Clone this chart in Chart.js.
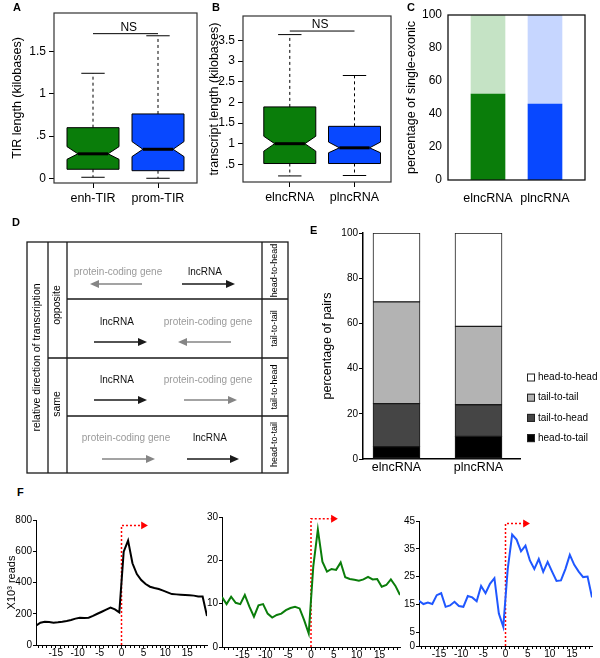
<!DOCTYPE html>
<html>
<head>
<meta charset="utf-8">
<title>lncRNA figure</title>
<script src="https://cdn.jsdelivr.net/npm/chart.js@4.4.1/dist/chart.umd.min.js"></script>
<style>
  body { margin: 0; background: #fff; }
  #fig { position: relative; width: 600px; height: 658px; overflow: hidden; background: #fff;
         font-family: "Liberation Sans", Arial, sans-serif; }
  #fig canvas { position: absolute; }
  .panel { position: absolute; font-weight: bold; font-size: 11px; line-height: 11px; color: #000; }
</style>
</head>
<body>
<div id="fig">
  <canvas id="chartA" width="200" height="210" style="left:0;top:0"></canvas>
  <canvas id="chartB" width="210" height="210" style="left:190px;top:0"></canvas>
  <canvas id="chartC" width="200" height="210" style="left:400px;top:0"></canvas>
  <canvas id="diagramD" width="300" height="270" style="left:0;top:210px"></canvas>
  <canvas id="chartE" width="300" height="255" style="left:300px;top:225px"></canvas>
  <canvas id="chartF1" width="212" height="158" style="left:0;top:500px"></canvas>
  <canvas id="chartF2" width="210" height="158" style="left:195px;top:500px"></canvas>
  <canvas id="chartF3" width="205" height="158" style="left:395px;top:500px"></canvas>
  <div class="panel" style="left:13px;top:2px">A</div>
  <div class="panel" style="left:212px;top:2px">B</div>
  <div class="panel" style="left:407px;top:2px">C</div>
  <div class="panel" style="left:12px;top:217px">D</div>
  <div class="panel" style="left:310px;top:225px">E</div>
  <div class="panel" style="left:17px;top:487px">F</div>
</div>
<script>
const FONT = '"Liberation Sans", Arial, sans-serif';

// Panel A - TIR length (kilobases)
const tirLabels = ['enh-TIR', 'prom-TIR'];
const tirWhiskerLow = [0.012, 0.0];
const tirQ1 = [0.107, 0.09];
const tirNotchLow = [0.225, 0.257];
const tirMedian = [0.29, 0.344];
const tirNotchHigh = [0.375, 0.435];
const tirQ3 = [0.60, 0.763];
const tirWhiskerHigh = [1.245, 1.69];
const tirTicks = [0, 0.5, 1, 1.5];
const tirTickLabels = ['0', '.5', '1', '1.5'];

// Panel B - transcript length (kilobases)
const lenLabels = ['elncRNA', 'plncRNA'];
const lenWhiskerLow = [0.22, 0.23];
const lenQ1 = [0.52, 0.52];
const lenNotchLow = [0.82, 0.78];
const lenMedian = [1.0, 0.9];
const lenNotchHigh = [1.18, 1.04];
const lenQ3 = [1.89, 1.42];
const lenWhiskerHigh = [3.64, 2.65];
const lenTicks = [0.5, 1, 1.5, 2, 2.5, 3, 3.5];
const lenTickLabels = ['.5', '1', '1.5', '2', '2.5', '3', '3.5'];

// Panel C - percentage of single-exonic
const exonLabels = ['elncRNA', 'plncRNA'];
const singleExonic = [52, 46];
const multiExonic = [48, 54];

// Panel E - percentage of pairs
const pairLabels = ['elncRNA', 'plncRNA'];
const headToTail = [5.5, 10];
const tailToHead = [19, 14];
const tailToTail = [45, 34.7];
const headToHead = [30.5, 41.3];

// Panel F - reads around the TSS
const tssPositions = [-19.5, -18.5, -17.5, -16.5, -15.5, -14.5, -13.5, -12.5, -11.5, -10.5,
  -9.5, -8.5, -7.5, -6.5, -5.5, -4.5, -3.5, -2.5, -1.5, -0.5,
  0.5, 1.5, 2.5, 3.5, 4.5, 5.5, 6.5, 7.5, 8.5, 9.5,
  10.5, 11.5, 12.5, 13.5, 14.5, 15.5, 16.5, 17.5, 18.5, 19.5];
const readsAll = [124, 143, 149, 147, 143, 145, 149, 154, 160, 169,
  175, 173, 175, 186, 200, 213, 226, 239, 228, 209,
  597, 668, 523, 454, 416, 390, 373, 365, 358, 348,
  337, 326, 324, 322, 320, 318, 316, 311, 310, 186];
const readsEnh = [11.5, 9.9, 11.6, 10.2, 9.9, 12.0, 9.3, 7.0, 9.6, 9.9,
  7.7, 6.8, 7.4, 7.7, 8.5, 9.0, 9.3, 8.9, 6.2, 3.1,
  18.6, 27.1, 19.7, 17.4, 18.0, 17.8, 19.5, 16.1, 15.7, 15.5,
  15.3, 15.6, 16.2, 15.6, 15.7, 13.9, 14.3, 15.6, 14.1, 12.0];
const readsProm = [16.3, 15.1, 15.6, 15.1, 18.3, 19.0, 14.1, 14.6, 15.9, 14.4,
  14.1, 18.0, 17.5, 16.1, 21.6, 19.0, 22.4, 24.4, 11.7, 6.9,
  27.7, 40.1, 38.3, 34.1, 36.1, 30.8, 27.7, 31.3, 26.7, 30.3,
  26.8, 23.4, 23.6, 27.7, 32.8, 29.2, 26.8, 24.8, 25.0, 17.5];
// minor ticks every kb, labels every 5
const tssTickValues = [-19, -18, -17, -16, -15, -14, -13, -12, -11, -10, -9, -8, -7, -6, -5, -4, -3, -2, -1,
  0, 1, 2, 3, 4, 5, 6, 7, 8, 9, 10, 11, 12, 13, 14, 15, 16, 17, 18, 19];
const tssArrowTop = [765, 29.6, 44.1];
const tssArrowEnd = [5.0, 4.9, 4.5];

const GREEN = '#0a7d0a';
const BLUE = '#0848ff';

Chart.defaults.font.family = FONT;
Chart.defaults.color = '#000';
Chart.defaults.animation = false;
Chart.defaults.responsive = false;
Chart.defaults.plugins.legend.display = false;
Chart.defaults.plugins.tooltip.enabled = false;

// Box around the plotting area
function framePlugin(color, width) {
  return {
    id: 'frame',
    afterDraw(chart) {
      const { ctx, chartArea: a } = chart;
      ctx.save();
      ctx.strokeStyle = color;
      ctx.lineWidth = width;
      ctx.strokeRect(a.left, a.top, a.right - a.left, a.bottom - a.top);
      ctx.restore();
    }
  };
}

// Notched boxplots drawn through the chart's scales
function notchedBoxPlugin(s) {
  return {
    id: 'notchedBox',
    afterDatasetsDraw(chart) {
      const { ctx, scales: { x, y } } = chart;
      const py = v => y.getPixelForValue(v);
      const hw = s.halfWidth;
      const inset = hw * 0.42;
      const cap = hw * 0.45;
      ctx.save();
      ctx.strokeStyle = '#000';
      s.median.forEach((med, i) => {
        const cx = x.getPixelForValue(i);
        ctx.lineWidth = 1;
        ctx.setLineDash([3, 3]);
        ctx.beginPath();
        ctx.moveTo(cx, py(s.q3[i])); ctx.lineTo(cx, py(s.whiskerHigh[i]));
        ctx.moveTo(cx, py(s.q1[i])); ctx.lineTo(cx, py(s.whiskerLow[i]));
        ctx.stroke();
        ctx.setLineDash([]);
        ctx.beginPath();
        ctx.moveTo(cx - cap, py(s.whiskerHigh[i])); ctx.lineTo(cx + cap, py(s.whiskerHigh[i]));
        ctx.moveTo(cx - cap, py(s.whiskerLow[i])); ctx.lineTo(cx + cap, py(s.whiskerLow[i]));
        ctx.stroke();

        ctx.beginPath();
        ctx.moveTo(cx - hw, py(s.q1[i]));
        ctx.lineTo(cx - hw, py(s.notchLow[i]));
        ctx.lineTo(cx - hw + inset, py(med));
        ctx.lineTo(cx - hw, py(s.notchHigh[i]));
        ctx.lineTo(cx - hw, py(s.q3[i]));
        ctx.lineTo(cx + hw, py(s.q3[i]));
        ctx.lineTo(cx + hw, py(s.notchHigh[i]));
        ctx.lineTo(cx + hw - inset, py(med));
        ctx.lineTo(cx + hw, py(s.notchLow[i]));
        ctx.lineTo(cx + hw, py(s.q1[i]));
        ctx.closePath();
        ctx.fillStyle = s.colors[i];
        ctx.fill();
        ctx.stroke();

        ctx.lineWidth = 3;
        ctx.beginPath();
        ctx.moveTo(cx - hw + inset, py(med));
        ctx.lineTo(cx + hw - inset, py(med));
        ctx.stroke();
      });
      // NS bracket
      ctx.lineWidth = 1;
      ctx.beginPath();
      ctx.moveTo(x.getPixelForValue(0), py(s.nsLevel));
      ctx.lineTo(x.getPixelForValue(1), py(s.nsLevel));
      ctx.stroke();
      ctx.fillStyle = '#000';
      ctx.font = '12px ' + FONT;
      ctx.textAlign = 'center';
      ctx.fillText('NS', x.getPixelForValue(s.nsTextX), py(s.nsLevel) - 3);
      ctx.restore();
    }
  };
}

function boxChart(id, labels, ticks, tickLabels, yMin, yMax, xMin, xMax, title, pad, yWidth, xHeight, titlePad, stats) {
  return new Chart(document.getElementById(id), {
    type: 'scatter',
    data: { datasets: [] },
    options: {
      layout: { padding: { top: pad.top, right: pad.right } },
      scales: {
        x: {
          type: 'linear', min: xMin, max: xMax, offset: false,
          afterBuildTicks: sc => { sc.ticks = labels.map((_, i) => ({ value: i })); },
          afterFit: sc => { sc.height = xHeight; },
          ticks: { callback: v => labels[v], font: { size: 12.5 }, padding: 3, maxRotation: 0 },
          grid: { drawOnChartArea: false, tickLength: 5, color: '#000' },
          border: { display: false }
        },
        y: {
          min: yMin, max: yMax,
          afterBuildTicks: sc => { sc.ticks = ticks.map(v => ({ value: v })); },
          afterFit: sc => { sc.width = yWidth; },
          ticks: { callback: (v, i) => tickLabels[i], font: { size: 12 }, padding: 3 },
          grid: { drawOnChartArea: false, tickLength: 5, color: '#000' },
          border: { display: false },
          title: { display: true, text: title, font: { size: 12.5 }, padding: { top: titlePad, bottom: 0 } }
        }
      }
    },
    plugins: [framePlugin('#333', 1.2), notchedBoxPlugin(stats)]
  });
}

boxChart('chartA', tirLabels, tirTicks, tirTickLabels, -0.056, 1.96, -0.6, 1.6,
  'TIR length (kilobases)', { top: 13, right: 3 }, 54, 27, 10.5, {
    halfWidth: 26, colors: [GREEN, BLUE],
    whiskerLow: tirWhiskerLow, q1: tirQ1, notchLow: tirNotchLow, median: tirMedian,
    notchHigh: tirNotchHigh, q3: tirQ3, whiskerHigh: tirWhiskerHigh,
    nsLevel: 1.715, nsTextX: 0.55
  });

boxChart('chartB', lenLabels, lenTicks, lenTickLabels, 0.073, 4.09, -0.723, 1.564,
  'transcript length (kilobases)', { top: 16, right: 9 }, 53, 28, 17.5, {
    halfWidth: 26, colors: [GREEN, BLUE],
    whiskerLow: lenWhiskerLow, q1: lenQ1, notchLow: lenNotchLow, median: lenMedian,
    notchHigh: lenNotchHigh, q3: lenQ3, whiskerHigh: lenWhiskerHigh,
    nsLevel: 3.726, nsTextX: 0.47
  });

// Panel C
new Chart(document.getElementById('chartC'), {
  type: 'bar',
  data: {
    datasets: [
      { data: exonLabels.map((_, i) => ({ x: i, y: singleExonic[i] })), backgroundColor: [GREEN, BLUE], barThickness: 34 },
      { data: exonLabels.map((_, i) => ({ x: i, y: multiExonic[i] })), backgroundColor: ['#c5e3c5', '#c6d6ff'], barThickness: 34 }
    ]
  },
  options: {
    layout: { padding: { top: 15, right: 15 } },
    scales: {
      x: {
        type: 'linear', min: -0.702, max: 1.702, stacked: true, offset: false,
        afterBuildTicks: sc => { sc.ticks = exonLabels.map((_, i) => ({ value: i })); },
        afterFit: sc => { sc.height = 30; },
        ticks: { callback: v => exonLabels[v], font: { size: 12.5 }, padding: 11, maxRotation: 0 },
        grid: { display: false, drawTicks: false, offset: false },
        border: { display: false }
      },
      y: {
        min: 0, max: 100, stacked: true,
        ticks: { stepSize: 20, font: { size: 12 }, padding: 6 },
        afterFit: sc => { sc.width = 48; },
        grid: { display: false, drawTicks: false },
        border: { display: false },
        title: { display: true, text: 'percentage of single-exonic', font: { size: 12.5 }, padding: { top: 4.5, bottom: 0 } }
      }
    }
  },
  plugins: [framePlugin('#111', 1.3)]
});

// Panel D - orientation diagram (plain canvas drawing)
function drawArrow(ctx, x1, x2, y, color) {
  const dir = Math.sign(x2 - x1);
  ctx.strokeStyle = color;
  ctx.fillStyle = color;
  ctx.lineWidth = 1.6;
  ctx.beginPath();
  ctx.moveTo(x1, y);
  ctx.lineTo(x2 - dir * 6, y);
  ctx.stroke();
  ctx.beginPath();
  ctx.moveTo(x2, y);
  ctx.lineTo(x2 - dir * 9, y - 4);
  ctx.lineTo(x2 - dir * 9, y + 4);
  ctx.closePath();
  ctx.fill();
}

function verticalText(ctx, text, x, y, size, color) {
  ctx.save();
  ctx.translate(x, y);
  ctx.rotate(-Math.PI / 2);
  ctx.font = size + 'px ' + FONT;
  ctx.fillStyle = color || '#000';
  ctx.textAlign = 'center';
  ctx.textBaseline = 'middle';
  ctx.fillText(text, 0, 0);
  ctx.restore();
}

const orientationRows = ['head-to-head', 'tail-to-tail', 'tail-to-head', 'head-to-tail'];

function drawOrientationDiagram() {
  const ctx = document.getElementById('diagramD').getContext('2d');
  const GRAY_TEXT = '#9a9a9a', GRAY_ARROW = '#858585', DARK = '#1a1a1a';
  ctx.save();
  ctx.translate(0, -210);
  ctx.strokeStyle = DARK;
  ctx.lineWidth = 1.3;
  ctx.strokeRect(27, 242, 261, 231);
  ctx.beginPath();
  [48, 67, 262].forEach(x => { ctx.moveTo(x, 242); ctx.lineTo(x, 473); });
  ctx.moveTo(48, 358); ctx.lineTo(288, 358);
  ctx.moveTo(67, 299); ctx.lineTo(288, 299);
  ctx.moveTo(67, 416); ctx.lineTo(288, 416);
  ctx.stroke();

  verticalText(ctx, 'relative direction of transcription', 37.5, 357.5, 10.5);
  verticalText(ctx, 'opposite', 57.5, 305, 10.5);
  verticalText(ctx, 'same', 57.5, 404, 10.5);
  const rowMid = [270.5, 328.5, 387, 444.5];
  orientationRows.forEach((r, i) => verticalText(ctx, r, 275, rowMid[i], 9));

  const items = [
    ['protein-coding gene', false, 118, 272, 142, 90, 284],
    ['lncRNA', true, 205, 272, 182, 235, 284],
    ['lncRNA', true, 117, 322, 94, 147, 342],
    ['protein-coding gene', false, 208, 322, 231, 178, 342],
    ['lncRNA', true, 117, 380, 94, 147, 400],
    ['protein-coding gene', false, 208, 380, 184, 237, 400],
    ['protein-coding gene', false, 126, 438, 102, 155, 459],
    ['lncRNA', true, 210, 438, 187, 239, 459]
  ];
  ctx.font = '10px ' + FONT;
  ctx.textAlign = 'center';
  ctx.textBaseline = 'middle';
  items.forEach(([text, dark, tx, ty, a1, a2, ay]) => {
    ctx.fillStyle = dark ? '#111' : GRAY_TEXT;
    ctx.fillText(text, tx, ty);
    drawArrow(ctx, a1, a2, ay, dark ? DARK : GRAY_ARROW);
  });
  ctx.restore();
}
drawOrientationDiagram();

// Panel E - stacked bars with legend on the right
const pairLegendPlugin = {
  id: 'pairLegend',
  afterDraw(chart) {
    const { ctx, chartArea } = chart;
    const sets = chart.data.datasets.slice().reverse();
    ctx.save();
    ctx.font = '10px ' + FONT;
    ctx.textBaseline = 'middle';
    sets.forEach((ds, i) => {
      const x = chartArea.right + 7;
      const y = 152.5 + i * 20.2;
      ctx.fillStyle = ds.backgroundColor;
      ctx.fillRect(x, y - 4, 8, 8);
      ctx.strokeStyle = '#222';
      ctx.lineWidth = 1;
      ctx.strokeRect(x + 0.5, y - 3.5, 7, 7);
      ctx.fillStyle = '#000';
      ctx.fillText(ds.label, x + 11, y);
    });
    ctx.restore();
  }
};

const pairSeries = [
  ['head-to-tail', headToTail, '#000000'],
  ['tail-to-head', tailToHead, '#454545'],
  ['tail-to-tail', tailToTail, '#b3b3b3'],
  ['head-to-head', headToHead, '#ffffff']
];

new Chart(document.getElementById('chartE'), {
  type: 'bar',
  data: {
    datasets: pairSeries.map(([label, values, color]) => ({
      label,
      data: pairLabels.map((_, i) => ({ x: i, y: values[i] })),
      backgroundColor: color,
      borderColor: '#1a1a1a',
      borderWidth: 1,
      borderSkipped: false,
      barThickness: 47
    }))
  },
  options: {
    layout: { padding: { top: 8, right: 80 } },
    scales: {
      x: {
        type: 'linear', min: -0.4085, max: 1.506, stacked: true, offset: false,
        afterBuildTicks: sc => { sc.ticks = pairLabels.map((_, i) => ({ value: i })); },
        afterFit: sc => { sc.height = 21; },
        ticks: { callback: v => pairLabels[v], font: { size: 12.5 }, padding: 1, maxRotation: 0 },
        grid: { display: false, drawTicks: false, offset: false },
        border: { color: '#000', width: 1.5 }
      },
      y: {
        min: 0, max: 100, stacked: true,
        ticks: { stepSize: 20, font: { size: 10 }, padding: 1 },
        afterFit: sc => { sc.width = 63; },
        grid: { drawOnChartArea: false, tickLength: 4, color: '#000' },
        border: { color: '#000', width: 1.5 },
        title: { display: true, text: 'percentage of pairs', font: { size: 12.5 }, padding: { top: 20.5, bottom: 0 } }
      }
    }
  },
  plugins: [pairLegendPlugin]
});

// Panel F - three read profiles
function tssChart(id, values, color, yMax, yTicks, k, pad, yWidth, xHeight, yTitle) {
  return new Chart(document.getElementById(id), {
    type: 'line',
    data: {
      datasets: [
        {
          data: tssPositions.map((x, i) => ({ x, y: values[i] })),
          borderColor: color, borderWidth: 2, pointRadius: 0, tension: 0
        },
        {
          data: [{ x: 0, y: 0 }, { x: 0, y: tssArrowTop[k] }, { x: tssArrowEnd[k], y: tssArrowTop[k] }],
          borderColor: '#ff0000', borderWidth: 1.5, borderDash: [2, 2],
          pointRadius: [0, 0, 4.5], pointStyle: 'triangle', pointRotation: 90,
          pointBackgroundColor: '#ff0000', pointBorderWidth: 0, clip: false
        }
      ]
    },
    options: {
      layout: { padding: { top: pad.top, right: pad.right } },
      scales: {
        x: {
          type: 'linear', min: -19.5, max: 19.5,
          ticks: { autoSkip: false, maxRotation: 0, font: { size: 10 }, padding: -1,
                   callback: v => (v % 5 === 0 ? String(v) : '') },
          afterBuildTicks: sc => { sc.ticks = tssTickValues.map(v => ({ value: v })); },
          afterFit: sc => { sc.height = xHeight; },
          grid: { drawOnChartArea: false, tickLength: 3, color: '#000' },
          border: { color: '#000', width: 1 }
        },
        y: {
          min: 0, max: yMax,
          afterBuildTicks: sc => { sc.ticks = yTicks.map(v => ({ value: v })); },
          afterFit: sc => { sc.width = yWidth; },
          ticks: { font: { size: 10 }, padding: 1 },
          grid: { drawOnChartArea: false, tickLength: 3, color: '#000' },
          border: { color: '#000', width: 1 },
          title: yTitle || { display: false }
        }
      }
    }
  });
}

tssChart('chartF1', readsAll, '#000000', 800, [0, 200, 400, 600, 800], 0, { top: 20, right: 5 }, 36, 13,
  { display: true, text: 'X10\u00B3 reads', font: { size: 11 }, padding: { top: 5, bottom: 0 } });
tssChart('chartF2', readsEnh, GREEN, 30, [0, 10, 20, 30], 1, { top: 17, right: 5 }, 27, 11);
tssChart('chartF3', readsProm, '#1f57ff', 45, [0, 5, 15, 25, 35, 45], 2, { top: 21, right: 8 }, 24, 12);
</script>
</body>
</html>
